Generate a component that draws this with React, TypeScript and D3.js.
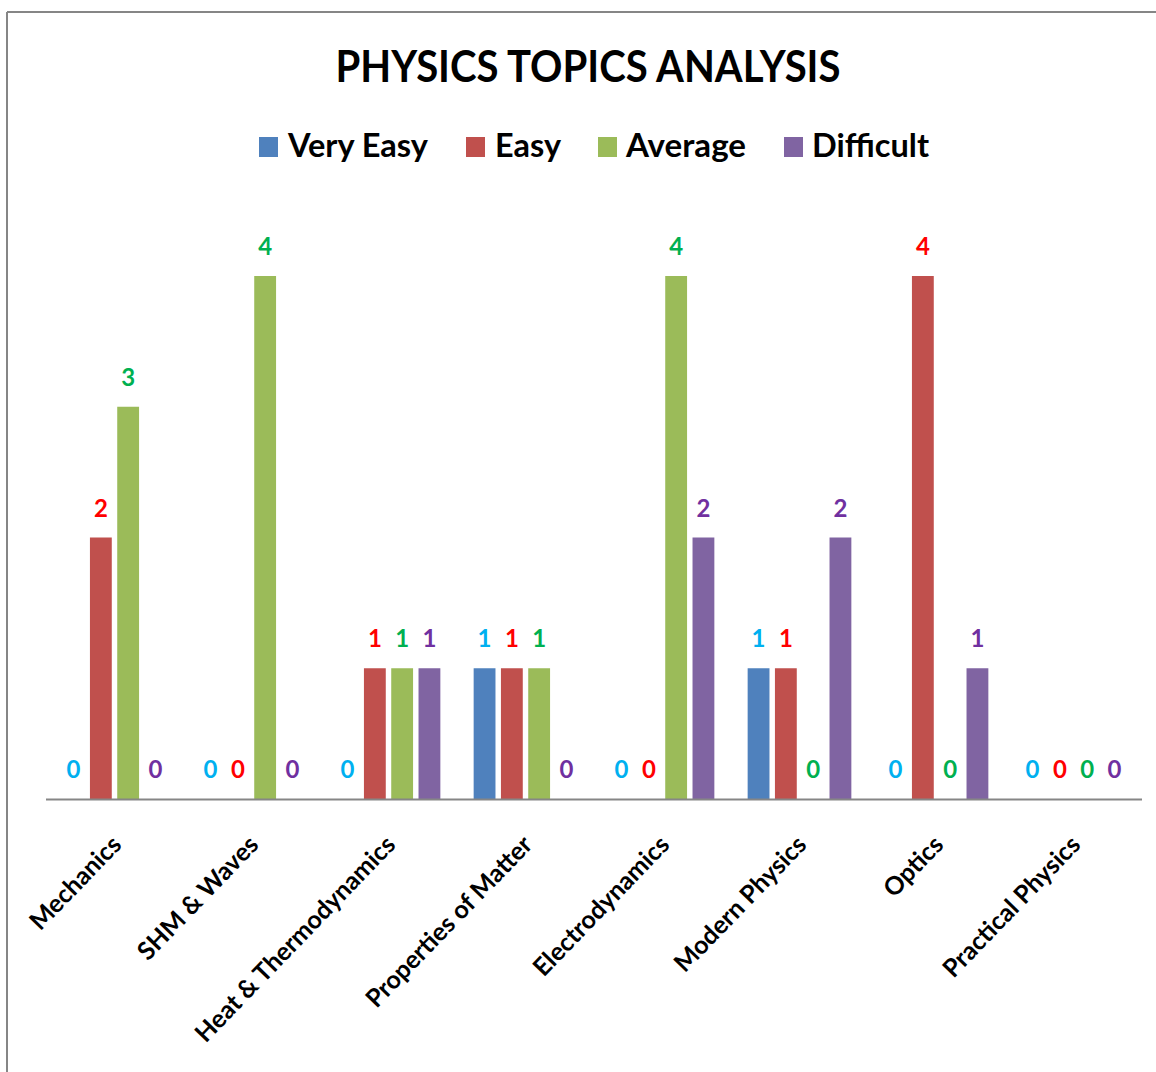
import React from "react";
import * as d3 from "d3";

const categories = [
  "Mechanics",
  "SHM & Waves",
  "Heat & Thermodynamics",
  "Properties of Matter",
  "Electrodynamics",
  "Modern Physics",
  "Optics",
  "Practical Physics",
];
const seriesNames = ["Very Easy", "Easy", "Average", "Difficult"];
const veryEasy = [0, 0, 0, 1, 0, 1, 0, 0];
const easy = [2, 0, 1, 1, 0, 1, 4, 0];
const average = [3, 4, 1, 1, 4, 0, 0, 0];
const difficult = [0, 0, 1, 0, 2, 2, 1, 0];
const seriesValues = [veryEasy, easy, average, difficult];
const barColors = ["#4F81BD", "#C0504D", "#9BBB59", "#8064A2"];
const labelColors = ["#00B0F0", "#FF0000", "#00B050", "#7030A0"];
const title = "PHYSICS TOPICS ANALYSIS";

const W = 1156;
const H = 1072;
const FONT = "Lato, 'Open Sans', sans-serif";

export default function App() {
  const x0 = d3.scaleBand<string>().domain(categories).range([46, 1142]).paddingInner(0).paddingOuter(0);
  const x1 = d3
    .scaleBand<string>()
    .domain(seriesNames)
    .range([0, x0.bandwidth()])
    .paddingInner(0.2)
    .paddingOuter(0.61);
  const y = d3.scaleLinear().domain([0, 4]).range([799, 276]);

  const legendItems = [
    { sq: 259, text: 288, len: 140 },
    { sq: 466, text: 495, len: 66 },
    { sq: 598, text: 626, len: 120 },
    { sq: 784, text: 812, len: 117 },
  ];

  return (
    <svg
      width={W}
      height={H}
      style={{ position: "absolute", left: 0, top: 0, background: "#fff" }}
      fontFamily={FONT}
    >
      <rect x={0} y={0} width={W} height={H} fill="#fff" />
      <line x1={7} y1={12} x2={W} y2={12} stroke="#868686" strokeWidth={2} />
      <line x1={7} y1={12} x2={7} y2={H} stroke="#868686" strokeWidth={2} />

      <text
        x={588}
        y={82}
        textAnchor="middle"
        fontSize={43}
        fontWeight="bold"
        textLength={505}
        lengthAdjust="spacingAndGlyphs"
        fill="#000"
      >
        {title}
      </text>

      {seriesNames.map((s, i) => (
        <g key={s}>
          <rect x={legendItems[i].sq} y={137} width={19} height={20} fill={barColors[i]} />
          <text
            x={legendItems[i].text}
            y={157}
            fontSize={33}
            fontWeight="bold"
            textLength={legendItems[i].len}
            lengthAdjust="spacingAndGlyphs"
            fill="#000"
          >
            {s}
          </text>
        </g>
      ))}

      {categories.map((c, ci) => (
        <g key={c} transform={`translate(${x0(c)},0)`}>
          {seriesNames.map((s, si) => {
            const v = seriesValues[si][ci];
            const bx = x1(s)!;
            const bw = x1.bandwidth();
            return (
              <g key={s}>
                {v > 0 && (
                  <rect x={bx} y={y(v)} width={bw} height={y(0) - y(v)} fill={barColors[si]} />
                )}
                <text
                  x={bx + bw / 2}
                  y={y(v) - 21}
                  textAnchor="middle"
                  fontSize={24}
                  fontWeight="bold"
                  fill={labelColors[si]}
                >
                  {v}
                </text>
              </g>
            );
          })}
        </g>
      ))}

      <line x1={46} y1={799.5} x2={1142} y2={799.5} stroke="#868686" strokeWidth={2} />

      {categories.map((c) => {
        const cx = x0(c)! + x0.bandwidth() / 2;
        return (
          <text
            key={c}
            transform={`translate(${cx + 2},${840}) rotate(-46)`}
            textAnchor="end"
            dy="0.35em"
            fontSize={25}
            fontWeight="bold"
            fill="#000"
          >
            {c}
          </text>
        );
      })}
    </svg>
  );
}
